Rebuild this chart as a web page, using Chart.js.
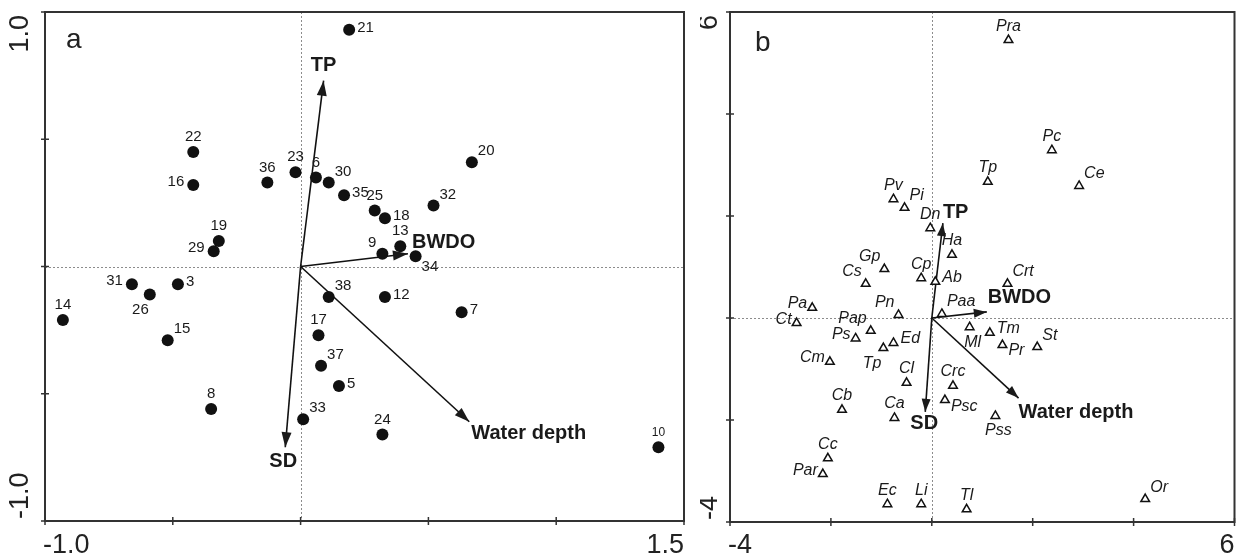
<!DOCTYPE html>
<html>
<head>
<meta charset="utf-8">
<script src="https://cdn.jsdelivr.net/npm/chart.js@4.4.0/dist/chart.umd.min.js"></script>
<style>
  html, body { margin: 0; padding: 0; background: #fff; }
  #chartA { position: absolute; left: 0; top: 0; }
  #chartB { position: absolute; left: 700px; top: 0; }
</style>
</head>
<body>
<canvas id="chartA" width="700" height="557"></canvas>
<canvas id="chartB" width="541" height="557"></canvas>
<script>
// Panel a - sampling sites
const siteNames = ["21","22","16","36","23","19","29","6","30","35","25","18","32","20","13","9","34","31","26","3","14","15","8","33","38","12","7","17","37","5","24","10"]
const siteX = [0.19,-0.42,-0.42,-0.13,-0.02,-0.32,-0.34,0.06,0.11,0.17,0.29,0.33,0.52,0.67,0.39,0.32,0.45,-0.66,-0.59,-0.48,-0.93,-0.52,-0.35,0.01,0.11,0.33,0.63,0.07,0.08,0.15,0.32,1.40]
const siteY = [0.93,0.45,0.32,0.33,0.37,0.10,0.06,0.35,0.33,0.28,0.22,0.19,0.24,0.41,0.08,0.05,0.04,-0.07,-0.11,-0.07,-0.21,-0.29,-0.56,-0.60,-0.12,-0.12,-0.18,-0.27,-0.39,-0.47,-0.66,-0.71]

// Panel b - species
const speciesNames = ["Pra","Pc","Tp","Ce","Pv","Pi","Dn","Ha","Gp","Cs","Cp","Ab","Crt","Paa","Pn","Pap","Pa","Ct","Ps","Ed","Tp","Cm","Cl","Cb","Ca","Cc","Par","Ec","Li","Tl","Or","Ml","Tm","Pr","St","Crc","Psc","Pss"]
const speciesX = [1.52,2.38,1.11,2.92,-0.76,-0.54,-0.03,0.40,-0.94,-1.31,-0.21,0.07,1.50,0.20,-0.66,-1.21,-2.37,-2.68,-1.51,-0.76,-0.96,-2.02,-0.50,-1.78,-0.74,-2.06,-2.16,-0.88,-0.21,0.69,4.23,0.75,1.15,1.40,2.09,0.42,0.26,1.26]
const speciesY = [5.45,3.29,2.67,2.59,2.33,2.16,1.76,1.24,0.96,0.67,0.78,0.71,0.67,0.08,0.06,-0.25,0.20,-0.10,-0.40,-0.49,-0.59,-0.86,-1.27,-1.80,-1.96,-2.75,-3.06,-3.65,-3.65,-3.75,-3.55,-0.18,-0.29,-0.53,-0.57,-1.33,-1.61,-1.92]

// Environmental variables (arrows)
const envNames = ["TP","BWDO","SD","Water depth"]
const envXA = [0.09,0.42,-0.06,0.66]
const envYA = [0.73,0.05,-0.71,-0.61]
const envXB = [0.22,1.09,-0.13,1.72]
const envYB = [1.86,0.12,-1.84,-1.57]

// label placement (style only)
const siteLabelPos = ["r","a","l","a","a","a","l","a","ar","r","a","r","ar","ar","a","al","br","l","bl","r","a","ar","a","ar","ar","r","r","a","ar","r","a","a"]
const speciesLabelPos = ["a","a","a","ar","a","ar","a","a","al","al","a","r","ar","ar","al","al","l","l","l","r","bl","l","a","a","a","a","l","a","a","a","ar","b","r","br","ar","a","br","b"]
const offsetsA = { a: ["center",0,-15], b: ["center",0,15], l: ["right",-9,-3], r: ["left",8,-2], ar: ["left",6,-11], al: ["right",-6,-11], bl: ["right",-1,15], br: ["left",6,11] }
const offsetsB = { a: ["center",0,-14], b: ["center",3,15], l: ["right",-5,-4], r: ["left",7,-4], ar: ["left",5,-12], al: ["right",-4,-12], bl: ["right",-2,15], br: ["left",6,6] }
const envLabelA = [["center",0,-15],["left",4,-11],["center",-2,14],["left",2,12]]
const envLabelB = [["left",0,-11],["left",1,-14],["center",-1,12],["left",0,14]]

const FONT = '"Liberation Sans", Arial, Helvetica, sans-serif'

function textAt(ctx, text, x, y, spec) {
  ctx.textAlign = spec[0]
  ctx.textBaseline = "middle"
  ctx.fillText(text, x + spec[1], y + spec[2])
}

function overlay(cfg) {
  return {
    id: "overlay" + cfg.letter,
    beforeDatasetsDraw(chart) {
      const { ctx, chartArea: a, scales: { x, y } } = chart
      const x0 = Math.round(x.getPixelForValue(0)) + 0.5
      const y0 = Math.round(y.getPixelForValue(0)) + 0.5
      ctx.save()
      ctx.strokeStyle = "#8c8c8c"
      ctx.lineWidth = 1
      ctx.setLineDash([2, 2])
      ctx.beginPath()
      ctx.moveTo(x0, a.top); ctx.lineTo(x0, a.bottom)
      ctx.moveTo(a.left, y0); ctx.lineTo(a.right, y0)
      ctx.stroke()
      ctx.restore()
    },
    afterDatasetsDraw(chart) {
      const { ctx, chartArea: a, scales: { x, y } } = chart
      ctx.save()
      ctx.fillStyle = "#1a1a1a"

      // arrowheads + env labels
      ctx.font = "bold 20px " + FONT
      for (let i = 1; i < chart.data.datasets.length; i++) {
        const meta = chart.getDatasetMeta(i)
        const p0 = meta.data[0], p1 = meta.data[1]
        const ang = Math.atan2(p1.y - p0.y, p1.x - p0.x)
        ctx.save()
        ctx.translate(p1.x, p1.y)
        ctx.rotate(ang)
        ctx.beginPath()
        ctx.moveTo(0, 0)
        ctx.lineTo(-cfg.headLen, -cfg.headW)
        ctx.lineTo(-cfg.headLen, cfg.headW)
        ctx.closePath()
        ctx.fill()
        ctx.restore()
        textAt(ctx, chart.data.datasets[i].label, p1.x, p1.y, cfg.envLabel[i - 1])
      }

      // point labels
      const pts = chart.getDatasetMeta(0).data
      pts.forEach((pt, i) => {
        const name = cfg.names[i]
        ctx.font = (name === "10" ? "12px " : cfg.labelFont) + FONT
        textAt(ctx, name, pt.x, pt.y, cfg.offsets[cfg.pos[i]])
      })

      // frame
      ctx.strokeStyle = "#333"
      ctx.lineWidth = 2
      ctx.strokeRect(a.left, a.top, a.right - a.left, a.bottom - a.top)

      // tick marks crossing the left and bottom axes
      ctx.lineWidth = 1.5
      ctx.beginPath()
      x.ticks.forEach(t => {
        const px = x.getPixelForValue(t.value)
        ctx.moveTo(px, a.bottom - 4); ctx.lineTo(px, a.bottom + 4)
      })
      y.ticks.forEach(t => {
        const py = y.getPixelForValue(t.value)
        ctx.moveTo(a.left - 4, py); ctx.lineTo(a.left + 4, py)
      })
      ctx.stroke()

      // end tick labels
      ctx.fillStyle = "#222"
      ctx.font = "27px " + FONT
      ctx.textBaseline = "alphabetic"
      ctx.textAlign = "left"
      ctx.fillText(cfg.xEnds[0], a.left - 2, 553)
      ctx.textAlign = "right"
      ctx.fillText(cfg.xEnds[1], a.right, 553)
      ctx.textBaseline = "middle"
      ctx.save()
      ctx.translate(cfg.yLabelX, a.top + 3)
      ctx.rotate(-Math.PI / 2)
      ctx.textAlign = "right"
      ctx.fillText(cfg.yEnds[1], 0, 0)
      ctx.restore()
      ctx.save()
      ctx.translate(cfg.yLabelX, a.bottom - 2)
      ctx.rotate(-Math.PI / 2)
      ctx.textAlign = "left"
      ctx.fillText(cfg.yEnds[0], 0, 0)
      ctx.restore()

      // panel letter
      ctx.font = "28px " + FONT
      ctx.textAlign = "left"
      ctx.textBaseline = "alphabetic"
      ctx.fillText(cfg.letter, a.left + cfg.letterDx, cfg.letterY)
      ctx.restore()
    }
  }
}

function axis(min, max, step, horizontal) {
  return {
    type: "linear", min: min, max: max,
    ticks: { display: false, stepSize: step },
    grid: { display: false },
    border: { display: false },
    afterFit: s => { if (horizontal) s.height = 0; else s.width = 0 }
  }
}

function buildChart(id, cfg) {
  const datasets = [{
    data: cfg.px.map((v, i) => ({ x: v, y: cfg.py[i] })),
    pointStyle: cfg.pointStyle,
    pointRadius: cfg.radius,
    backgroundColor: cfg.fill,
    borderColor: "#111",
    borderWidth: cfg.pointBorder
  }]
  cfg.envX.forEach((v, i) => {
    datasets.push({
      label: envNames[i],
      data: [{ x: 0, y: 0 }, { x: v, y: cfg.envY[i] }],
      showLine: true,
      borderColor: "#111",
      borderWidth: 1.6,
      pointRadius: 0
    })
  })
  return new Chart(document.getElementById(id), {
    type: "scatter",
    data: { datasets: datasets },
    options: {
      responsive: false,
      animation: false,
      events: [],
      layout: { padding: cfg.padding },
      plugins: { legend: { display: false }, tooltip: { enabled: false } },
      scales: { x: axis(cfg.xMin, cfg.xMax, cfg.xStep, true), y: axis(cfg.yMin, cfg.yMax, cfg.yStep, false) }
    },
    plugins: [overlay(cfg)]
  })
}

buildChart("chartA", {
  letter: "a", letterDx: 21, letterY: 48,
  px: siteX, py: siteY, names: siteNames, pos: siteLabelPos, offsets: offsetsA,
  envX: envXA, envY: envYA, envLabel: envLabelA,
  pointStyle: "circle", radius: 6, fill: "#111", pointBorder: 0,
  labelFont: "15px ",
  headLen: 15, headW: 5,
  xMin: -1, xMax: 1.5, xStep: 0.5, yMin: -1, yMax: 1, yStep: 0.5,
  xEnds: ["-1.0", "1.5"], yEnds: ["-1.0", "1.0"], yLabelX: 21,
  padding: { left: 45, top: 12, right: 16, bottom: 36 }
})

buildChart("chartB", {
  letter: "b", letterDx: 25, letterY: 51,
  px: speciesX, py: speciesY, names: speciesNames, pos: speciesLabelPos, offsets: offsetsB,
  envX: envXB, envY: envYB, envLabel: envLabelB,
  pointStyle: "triangle", radius: 5, fill: "#fff", pointBorder: 1.5,
  labelFont: "italic 16px ",
  headLen: 13, headW: 4.5,
  xMin: -4, xMax: 6, xStep: 2, yMin: -4, yMax: 6, yStep: 2,
  xEnds: ["-4", "6"], yEnds: ["-4", "6"], yLabelX: 10,
  padding: { left: 30, top: 12, right: 2, bottom: 35 }
})
</script>
</body>
</html>
